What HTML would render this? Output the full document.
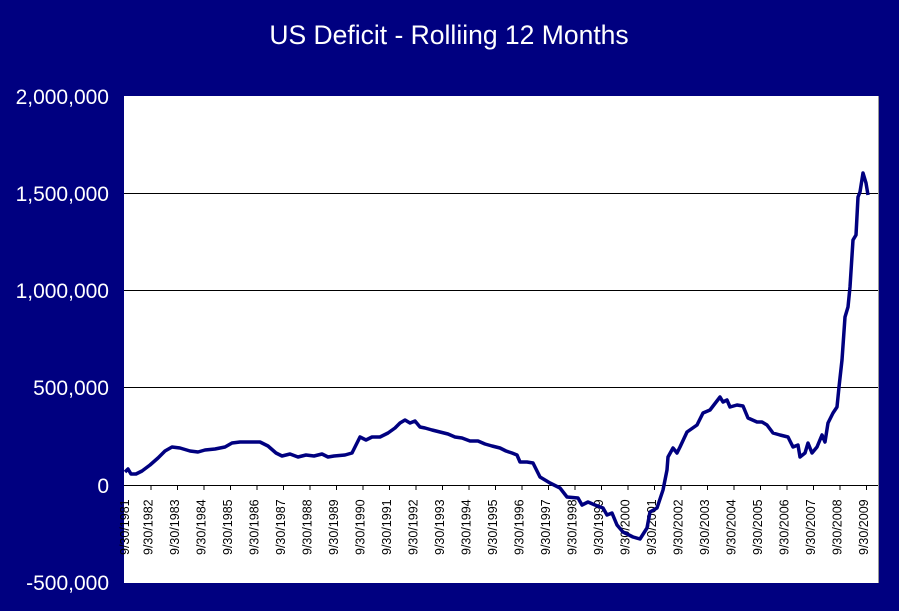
<!DOCTYPE html>
<html><head><meta charset="utf-8"><style>
html,body{margin:0;padding:0;background:#000080;}
svg{display:block;}
</style></head><body>
<svg width="899" height="611" xmlns="http://www.w3.org/2000/svg">
<rect width="899" height="611" fill="#000080"/>
<text x="449" y="44" fill="#fff" font-family="Liberation Sans, sans-serif" font-size="26.5" text-anchor="middle">US Deficit - Rolliing 12 Months</text>
<rect x="124" y="96" width="754" height="487" fill="#fff"/>
<line x1="878.5" y1="96" x2="878.5" y2="583" stroke="#999" stroke-width="1"/>
<g stroke="#000" stroke-width="1">
<line x1="124" y1="193.5" x2="878" y2="193.5"/>
<line x1="124" y1="290.5" x2="878" y2="290.5"/>
<line x1="124" y1="387.5" x2="878" y2="387.5"/>
<line x1="124" y1="485.5" x2="878" y2="485.5"/>
</g>
<g fill="#fff" font-family="Liberation Sans, sans-serif" font-size="21" text-anchor="end">
<text x="109" y="104">2,000,000</text>
<text x="109" y="201">1,500,000</text>
<text x="109" y="298">1,000,000</text>
<text x="109" y="395">500,000</text>
<text x="109" y="493">0</text>
<text x="109" y="590">-500,000</text>
</g>
<g id="ticks" stroke="#000" stroke-width="1"></g>
<g id="labels" fill="#000" font-family="Liberation Sans, sans-serif" font-size="12.5"></g>
<polyline fill="none" stroke="#000080" stroke-width="3.5" stroke-linejoin="round" points="
125,472 128,469 131,474 136,474 142,471 150,465 158,458 165,451 172,447 180,448 190,451 198,452 205,450 215,449 225,447 232,443 240,442 250,442 260,442 268,446 276,453 282,456 290,454 298,457 306,455 314,456 322,454 328,457 334,456 345,455 352,453 357,443 360,437 366,440 372,437 380,437 388,433 395,428 400,423 405,420 410,423 415,421 420,427 425,428 432,430 440,432 448,434 455,437 462,438 470,441 478,441 485,444 492,446 500,448 506,451 512,453 517,455 520,462 527,462 533,463 540,477 550,483 560,488 567,497 578,498 582,505 588,502 595,505 603,508 607,515 612,513 617,525 623,532 633,537 640,539 647,528 650,512 657,508 663,490 667,470 668,457 673,448 677,453 680,447 687,432 697,425 703,413 710,410 720,397 723,402 727,400 730,407 737,405 743,406 748,418 757,422 762,422 767,425 773,433 780,435 788,437 793,447 798,445 800,457 805,453 808,443 812,453 817,447 822,435 825,442 828,423 833,413 837,407 839,387 842,360 845,317 848,307 850,287 853,240 856,235 858,197 860,192 863,173 866,183 868,195"/>
<script>
var t=document.getElementById('ticks'),l=document.getElementById('labels');
for(var i=0;i<=28;i++){
 var x=124.5+i*26.5;
 if(i>0){var ln=document.createElementNS('http://www.w3.org/2000/svg','line');
 ln.setAttribute('x1',x);ln.setAttribute('x2',x);ln.setAttribute('y1',485);ln.setAttribute('y2',490);t.appendChild(ln);}
 var tx=document.createElementNS('http://www.w3.org/2000/svg','text');
 var cx=x-3+(i==0?3:0);
 tx.setAttribute('transform','translate('+(cx+4.5)+',555) rotate(-90)');
 tx.textContent='9/30/'+(1981+i);
 l.appendChild(tx);
}
</script>
</svg>
</body></html>
